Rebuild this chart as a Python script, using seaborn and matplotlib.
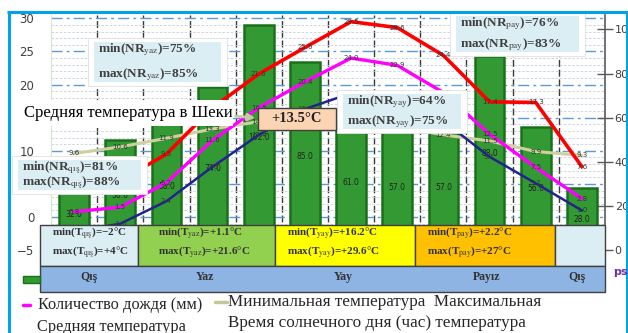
import numpy as np
import pandas as pd
import seaborn as sns
import matplotlib.pyplot as plt
from matplotlib.patches import Rectangle

# monthly values
months = ['Jan', 'Feb', 'Mar', 'Apr', 'May', 'Jun', 'Jul', 'Aug', 'Sep', 'Oct', 'Nov', 'Dec']
rain = [32, 50, 58, 74, 102, 85, 61, 57, 57, 88, 56, 28]
t_max = [4.0, 5.5, 9.5, 16.5, 21.6, 25.6, 29.5, 28.6, 24.4, 17.4, 17.3, 7.6]
t_avg = [0.8, 1.5, 5.2, 11.6, 16.5, 20.4, 24.0, 22.9, 18.8, 12.5, 7.5, 2.8]
t_min = [-2.2, -1.0, 2.4, 7.6, 12.4, 16.3, 18.7, 18.0, 14.5, 9.1, 5.1, 1.0]
sun_hours = [9.6, 10.6, 11.9, 13.3, 14.4, 15.1, 14.8, 13.7, 12.4, 11.5, 9.9, 9.3]

# season table
seasons = ['Qış', 'Yaz', 'Yay', 'Payız', 'Qış']
season_sub = ['qış', 'yaz', 'yay', 'pay', None]
season_tmin = ['\u22122', '+1.1', '+16.2', '+2.2', None]
season_tmax = ['+4', '+21.6', '+29.6', '+27', None]
season_colors = ['#dbeef4', '#92d050', '#ffff00', '#ffc000', '#dbeef4']

# humidity boxes
nr_sub = ['yaz', 'qış', 'yay', 'pay']
nr_min = [75, 81, 64, 76]
nr_max = [85, 88, 75, 83]
avg_label = 'Средняя температура в Шеки'
avg_value = '+13.5°C'

sns.set_style('white')
plt.rcParams['font.family'] = ['DejaVu Sans']
plt.rcParams['mathtext.fontset'] = 'stix'
serif = ['Liberation Serif', 'DejaVu Serif']

W, H = 628, 333
fig = plt.figure(figsize=(W / 100, H / 100), dpi=100)
pos = [51 / W, (H - 290) / H, 554 / W, 275 / H]

# background axes: temperature scale, grid
ax_bg = fig.add_axes(pos, zorder=0)
ax_bg.set_xlim(-0.5, 11.5)
ax_bg.set_ylim(-11, 30.5)
ax_bg.set_yticks(np.arange(-5, 31, 5))
ax_bg.set_yticks(np.arange(-10, 31, 1), minor=True)
ax_bg.set_xticks([])
ax_bg.set_xticks(np.arange(0.5, 11, 1), minor=True)
ax_bg.yaxis.grid(True, which='major', color='#5b9bd5', lw=1.0, ls=(0, (8, 3, 2, 3)))
ax_bg.yaxis.grid(True, which='minor', color='#c5cfdc', lw=0.6, ls=(0, (3, 2)))
ax_bg.xaxis.grid(True, which='minor', color='#3a3a3a', lw=1.0, ls=(0, (5, 2)))
ax_bg.tick_params(axis='y', which='both', length=0, pad=12, labelsize=8.5, labelcolor='#404040')
ax_bg.tick_params(axis='x', which='both', length=0)
for s in ax_bg.spines.values():
    s.set_visible(False)
ax_bg.spines['left'].set_visible(True)
ax_bg.spines['left'].set_color('#cfe8cf')

# bars: rain, right axis
ax_bars = fig.add_axes(pos, zorder=1)
ax_bars.patch.set_visible(False)
sns.barplot(x=months, y=rain, ax=ax_bars, color='#339933', edgecolor='#1a701a',
            linewidth=1.8, width=0.64, saturation=1)
ax_bars.set_xlim(-0.5, 11.5)
ax_bars.set_ylim(-18, 106.5)
ax_bars.set_xlabel('')
ax_bars.set_ylabel('')
ax_bars.set_xticks([])
ax_bars.yaxis.tick_right()
ax_bars.set_yticks(np.arange(0, 101, 20))
ax_bars.tick_params(axis='y', direction='inout', length=12, width=1, color='#595959',
                    labelsize=8, labelcolor='#404040', pad=1)
for k, s in ax_bars.spines.items():
    s.set_visible(k == 'right')
ax_bars.spines['right'].set_color('#595959')
ax_bars.spines['right'].set_linewidth(1.2)
for i, r in enumerate(rain):
    ax_bars.text(i, r / 2, f'{r:.1f}', ha='center', va='center', fontsize=5.5, color='#222222')

# lines: temperatures and day length, left scale
ax_lines = fig.add_axes(pos, zorder=2, sharey=ax_bg)
ax_lines.axis('off')
x = np.arange(len(months))
series = [(sun_hours, '#cfd0a0', 2.2), (t_min, '#23238e', 1.8),
          (t_avg, '#ff00ff', 2.4), (t_max, '#ff0000', 2.6)]
for vals, col, lw in series:
    sns.lineplot(x=x, y=vals, ax=ax_lines, color=col, lw=lw)
    for i, v in enumerate(vals):
        ax_lines.text(i, v, f'{v:.1f}', ha='center', va='center', fontsize=5, color='#333333')
ax_lines.set_xlim(-0.5, 11.5)
ax_lines.set_ylim(-11, 30.5)

# overlay in pixel coordinates
ax_o = fig.add_axes([0, 0, 1, 1], zorder=3)
ax_o.set_xlim(0, W)
ax_o.set_ylim(H, 0)
ax_o.axis('off')

# humidity boxes
boxes = [(88, 38, 227, 86), (12, 156, 147, 194), (337, 90, 467, 133), (450, 12, 585, 56)]
for (x0, y0, x1, y1), sub, lo, hi in zip(boxes, nr_sub, nr_min, nr_max):
    ax_o.add_patch(Rectangle((x0, y0), x1 - x0, y1 - y0, fc='white', ec='#e0e0e0', lw=0.6))
    ax_o.add_patch(Rectangle((x0 + 6, y0 + 4), x1 - x0 - 12, y1 - y0 - 8, fc='#dbeef3', ec='none'))
    ax_o.text(x0 + 10, y0 + 12, rf'min(NR$_{{\mathrm{{{sub}}}}}$)={lo}%', fontsize=9.5,
              fontweight='bold', family=serif, color='#404040', va='center')
    ax_o.text(x0 + 10, y1 - 11, rf'max(NR$_{{\mathrm{{{sub}}}}}$)={hi}%', fontsize=9.5,
              fontweight='bold', family=serif, color='#404040', va='center')

# average temperature annotation
ax_o.add_patch(Rectangle((20, 100), 213, 26, fc='white', ec='none'))
ax_o.text(24, 113, avg_label, fontsize=12, family=serif, va='center', color='black')
ax_o.annotate('', xy=(258, 118), xytext=(233, 116),
              arrowprops=dict(arrowstyle='-|>', color='#c8c8a8', lw=2))
ax_o.add_patch(Rectangle((258, 108), 78, 22, fc='#fbd4b4', ec='#404040', lw=1))
ax_o.text(297, 119, avg_value, fontsize=10.5, fontweight='bold', family=serif,
          ha='center', va='center', color='#222222')

# season table
edges = [40, 138, 275, 415, 555, 605]
for k in range(5):
    x0, x1 = edges[k], edges[k + 1]
    ax_o.add_patch(Rectangle((x0, 225), x1 - x0, 41, fc=season_colors[k], ec='#404040', lw=1))
    if season_sub[k] is not None:
        off = 20 if k == 1 else 12
        ax_o.text(x0 + off, 233, rf'min(T$_{{\mathrm{{{season_sub[k]}}}}}$)={season_tmin[k]}°C',
                  fontsize=8, fontweight='bold', family=serif, color='#333333', va='center')
        ax_o.text(x0 + off, 252, rf'max(T$_{{\mathrm{{{season_sub[k]}}}}}$)={season_tmax[k]}°C',
                  fontsize=8, fontweight='bold', family=serif, color='#333333', va='center')
ax_o.add_patch(Rectangle((40, 266), 565, 26, fc='#8eb4e3', ec='#404040', lw=1))
for xc, name in zip([89, 205, 343, 487, 577], seasons):
    ax_o.text(xc, 277, name, fontsize=8.5, fontweight='bold', family=serif,
              ha='center', va='center', color='#333333')

# bits of legend
ax_o.add_patch(Rectangle((23, 276), 17, 7, fc='#339933', ec='#1a701a', lw=1))
ax_o.text(613, 272, 'ps', fontsize=8, fontweight='bold', color='#7030a0', va='center')
ax_o.plot([23, 30], [305, 305], color='#ff00ff', lw=2.5)
ax_o.text(38, 305, 'Количество дождя (мм)', fontsize=11.8, family=serif, va='center')
ax_o.text(37, 327, 'Средняя температура', fontsize=11.8, family=serif, va='center')
ax_o.plot([215, 227], [302, 302], color='#c3c89a', lw=2.5)
ax_o.text(228, 302, 'Минимальная температура  Максимальная', fontsize=12.3, family=serif, va='center')
ax_o.text(228, 323, 'Время солнечного дня (час) температура', fontsize=12.3, family=serif, va='center')

# outer blue frame
ax_o.plot([7, 628], [12, 12], color='#00a2e8', lw=2.2, solid_capstyle='butt')
ax_o.plot([9, 9], [12, 333], color='#00a2e8', lw=2.2)
ax_o.plot([627, 627], [12, 333], color='#00a2e8', lw=2.2)

fig.savefig('out.png', dpi=100)
